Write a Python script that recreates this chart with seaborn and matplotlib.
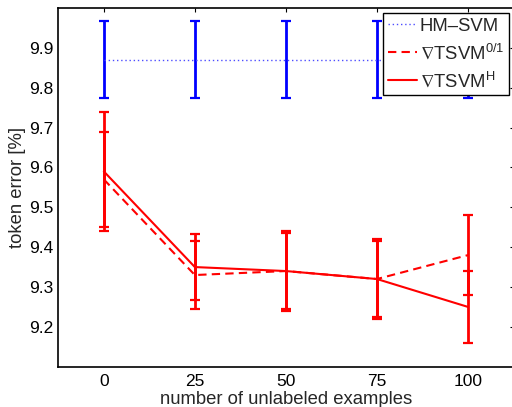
import numpy as np
import pandas as pd
import matplotlib
matplotlib.use("Agg")
import matplotlib.pyplot as plt
from matplotlib.lines import Line2D
import seaborn as sns

# data
n_unlabeled = [0, 25, 50, 75, 100]
hm_svm = [9.87, 9.87, 9.87, 9.87, 9.87]
hm_svm_err = [0.097, 0.097, 0.097, 0.097, 0.097]
tsvm_01 = [9.57, 9.33, 9.34, 9.32, 9.38]
tsvm_01_err = [0.12, 0.085, 0.095, 0.095, 0.10]
tsvm_h = [9.59, 9.35, 9.34, 9.32, 9.25]
tsvm_h_err = [0.15, 0.083, 0.10, 0.10, 0.09]

labels = ["HM\u2013SVM", r"$\nabla$TSVM$^{\mathrm{0/1}}$", r"$\nabla$TSVM$^{\mathrm{H}}$"]

df = pd.DataFrame({
    "x": n_unlabeled * 3,
    "y": hm_svm + tsvm_01 + tsvm_h,
    "err": hm_svm_err + tsvm_01_err + tsvm_h_err,
    "method": [labels[0]] * 5 + [labels[1]] * 5 + [labels[2]] * 5,
})

sns.set_style("white")
plt.rcParams["font.family"] = ["Liberation Sans", "DejaVu Sans"]
plt.rcParams["mathtext.fontset"] = "custom"
plt.rcParams["mathtext.rm"] = "Liberation Sans"
plt.rcParams["mathtext.it"] = "Liberation Sans:italic"
plt.rcParams["mathtext.fallback"] = "stixsans"

fig = plt.figure(figsize=(5.12, 4.07), dpi=100)
ax = fig.add_axes([58.3 / 512, (407 - 366.7) / 407, (513.5 - 58.3) / 512, (366.7 - 8) / 407])

colors = {labels[0]: "#4d4dff", labels[1]: "red", labels[2]: "red"}
bar_colors = {labels[0]: "blue", labels[1]: "red", labels[2]: "red"}
dashes = {labels[0]: (1, 2), labels[1]: (4, 2.5), labels[2]: ""}
widths = {labels[0]: 1.0, labels[1]: 1.5, labels[2]: 1.5}

# error bars first
for m in labels:
    d = df[df["method"] == m]
    ax.errorbar(d["x"], d["y"], yerr=d["err"], fmt="none", ecolor=bar_colors[m],
                elinewidth=2, capsize=3.5, capthick=1.6, zorder=2)

sns.lineplot(data=df, x="x", y="y", hue="method", style="method",
             palette=colors, dashes=dashes, ax=ax, zorder=3, legend=False)
for line, m in zip(ax.get_lines()[-3:], labels):
    line.set_linewidth(widths[m])

ax.set_xlim(-12.5, 112.5)
ax.set_ylim(9.1, 10.0)
ax.set_xticks(n_unlabeled)
ax.set_yticks([9.2, 9.3, 9.4, 9.5, 9.6, 9.7, 9.8, 9.9])
ax.set_yticklabels(["9.2", "9.3", "9.4", "9.5", "9.6", "9.7", "9.8", "9.9"])
ax.tick_params(axis="x", direction="in", length=3, width=0.8, top=True,
               labelsize=12.5, colors="black", pad=5)
ax.tick_params(axis="y", which="both", direction="out", length=2.5, width=0.8,
               labelsize=12.5, colors="black", pad=1)
for s in ax.spines.values():
    s.set_color("black")
    s.set_linewidth(1.2)
ax.set_xlabel("number of unlabeled examples", fontsize=13.3, labelpad=1.5)
ax.set_ylabel("token error [%]", fontsize=13.3, labelpad=2)

# right-hand inward ticks
ax_r = ax.secondary_yaxis("right")
ax_r.set_yticks([9.2, 9.3, 9.4, 9.5, 9.6, 9.7, 9.8, 9.9])
ax_r.tick_params(direction="in", length=3, width=0.8, labelright=False, colors="black")

handles = [Line2D([], [], color="#4d4dff", linestyle=(0, (1, 2)), lw=1.0),
           Line2D([], [], color="red", linestyle=(0, (4, 2.5)), lw=1.5),
           Line2D([], [], color="red", linestyle="-", lw=1.5)]
leg = ax.legend(handles, labels, loc="upper right", bbox_to_anchor=(509 / 512, 1 - 13.3 / 407),
                bbox_transform=fig.transFigure, fontsize=13.3, frameon=True, fancybox=False,
                edgecolor="black", framealpha=1, borderpad=0.25, labelspacing=0.45,
                handlelength=1.6, handletextpad=0.15, borderaxespad=0)
leg.get_frame().set_linewidth(1.0)
leg.set_zorder(10)

fig.savefig("out.png", dpi=100)
